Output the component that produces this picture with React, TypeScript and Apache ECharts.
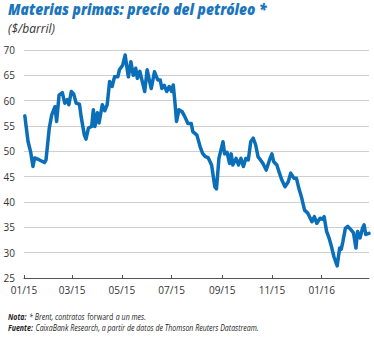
import React, { useEffect, useRef } from "react";
import * as echarts from "echarts";

// Daily category axis: 2015-01-01 .. 2016-02-28
const START = Date.UTC(2015, 0, 1);
const NUM_DAYS = 424;

const obsDays: number[] = [
  1, 5, 8, 11, 13, 19, 25, 27, 31, 34, 38, 40, 43, 47, 50, 53, 55, 58, 61, 64,
  68, 70, 74, 76, 79, 83, 85, 87, 90, 92, 96, 99, 102, 105, 108, 111, 115, 117, 121, 124,
  127, 128, 131, 134, 137, 139, 142, 145, 148, 151, 154, 156, 160, 164, 167, 169, 172, 175, 178, 181,
  183, 185, 187, 190, 194, 197, 201, 205, 207, 212, 216, 219, 222, 226, 230, 234, 236, 239, 242, 244,
  246, 249, 252, 254, 256, 260, 263, 266, 269, 272, 275, 278, 281, 284, 287, 290, 293, 297, 301, 304,
  306, 310, 313, 316, 320, 324, 327, 331, 334, 337, 340, 344, 348, 351, 353, 356, 359, 363, 366, 368,
  371, 374, 377, 380, 384, 387, 389, 391, 394, 397, 401, 404, 407, 409, 412, 415, 417, 419, 423,
];
const obsValues: number[] = [
  57.0, 51.9, 50.0, 47.0, 48.7, 48.3, 47.8, 48.3, 54.6, 57.2, 58.8, 55.9, 61.1, 61.6, 59.5, 60.2, 59.2, 61.8, 61.3, 59.5,
  59.3, 56.9, 53.2, 52.4, 54.6, 54.9, 58.2, 54.9, 57.6, 55.6, 59.2, 58.0, 59.2, 63.8, 62.8, 64.7, 64.7, 66.1, 67.0, 69.0,
  65.7, 64.7, 67.7, 65.0, 66.4, 64.4, 65.8, 63.8, 61.8, 66.1, 63.8, 62.4, 65.7, 64.1, 64.1, 62.4, 63.0, 61.8, 62.8, 61.8,
  63.1, 59.8, 55.9, 58.2, 57.8, 56.9, 55.5, 55.5, 53.9, 53.2, 50.9, 49.6, 49.0, 48.7, 47.3, 43.0, 42.6, 48.6, 50.6, 51.9,
  49.5, 49.8, 47.6, 49.5, 47.3, 48.6, 47.3, 48.6, 47.0, 48.6, 48.3, 51.9, 52.6, 51.3, 48.9, 48.3, 47.6, 46.3, 48.3, 49.5,
  48.0, 47.3, 45.8, 44.4, 43.0, 44.0, 45.7, 44.7, 44.7, 42.7, 41.1, 38.4, 37.8, 36.8, 36.1, 37.1, 35.8, 36.8, 36.6, 37.1,
  34.2, 32.9, 31.2, 29.2, 27.4, 30.9, 30.7, 32.2, 34.8, 35.2, 34.5, 33.9, 30.9, 34.2, 32.9, 34.8, 35.5, 33.6, 33.8,
];

const yTicks = { min: 25, max: 70, interval: 5 };

function dayKey(i: number): string {
  const d = new Date(START + i * 86400000);
  const m = String(d.getUTCMonth() + 1).padStart(2, "0");
  const day = String(d.getUTCDate()).padStart(2, "0");
  return `${d.getUTCFullYear()}-${m}-${day}`;
}

const categories: string[] = Array.from({ length: NUM_DAYS }, (_, i) => dayKey(i));
const seriesData = obsDays.map((d, i) => [dayKey(d), obsValues[i]]);

const isTickDay = (_idx: number, value: string) => {
  const [, m, d] = value.split("-");
  return d === "01" && parseInt(m, 10) % 2 === 1;
};

export default function App() {
  const ref = useRef<HTMLDivElement>(null);
  useEffect(() => {
    document.body.style.margin = "0";
    if (!ref.current) return;
    const chart = echarts.init(ref.current, undefined, { renderer: "svg" });
    const blue = "#0a6fb8";
    chart.setOption({
      animation: false,
      grid: { left: 24, right: 5, top: 50, bottom: 60, containLabel: false },
      xAxis: {
        type: "category",
        data: categories,
        boundaryGap: false,
        axisLine: { lineStyle: { color: "#555", width: 1 } },
        axisTick: { interval: isTickDay, length: 3, inside: true, lineStyle: { color: "#555" } },
        axisLabel: {
          interval: isTickDay,
          margin: 7,
          color: "#333",
          fontSize: 10,
          fontFamily: "Open Sans",
          formatter: (v: string) => {
            const [y, m] = v.split("-");
            return `${m}/${y.slice(2)}`;
          },
        },
        splitLine: { show: false },
      },
      yAxis: {
        type: "value",
        min: yTicks.min,
        max: yTicks.max,
        interval: yTicks.interval,
        axisLine: { show: false },
        axisTick: { show: false },
        axisLabel: { color: "#333", fontSize: 10, fontFamily: "Open Sans", margin: 9 },
        splitLine: { lineStyle: { color: "#cfcfcf", width: 1 } },
      },
      series: [
        {
          type: "line",
          data: seriesData,
          showSymbol: false,
          symbol: "none",
          lineStyle: { color: blue, width: 3.5, join: "round", cap: "round" },
        },
      ],
      graphic: [
        {
          type: "group",
          left: 8,
          top: 2,
          scaleX: 0.92,
          children: [
            {
              type: "text",
              style: {
                text: "Materias primas: precio del petróleo *",
                font: "italic 800 15px 'Open Sans'",
                fill: "#1a75bc",
              },
            },
          ],
        },
        {
          type: "text",
          left: 8,
          top: 22,
          style: {
            text: "($/barril)",
            font: "italic 12px 'Open Sans'",
            fill: "#333",
          },
        },
        {
          type: "group",
          left: 8,
          top: 310,
          scaleX: 0.78,
          children: [
            {
              type: "text",
              style: {
                text: "{b|Nota:} {i|* Brent, contratos} {n|forward} {i|a un mes.}",
                rich: {
                  b: { font: "italic bold 9px 'Open Sans'", fill: "#222" },
                  i: { font: "italic 9px 'Open Sans'", fill: "#222" },
                  n: { font: "9px 'Open Sans'", fill: "#222" },
                },
              },
            },
            {
              type: "text",
              y: 11,
              style: {
                text: "{b|Fuente:} {i|CaixaBank Research, a partir de datos de Thomson Reuters Datastream.}",
                rich: {
                  b: { font: "italic bold 9px 'Open Sans'", fill: "#222" },
                  i: { font: "italic 9px 'Open Sans'", fill: "#222" },
                },
              },
            },
          ],
        },
      ],
    });
    return () => chart.dispose();
  }, []);
  return <div ref={ref} style={{ width: 374, height: 338 }} />;
}
